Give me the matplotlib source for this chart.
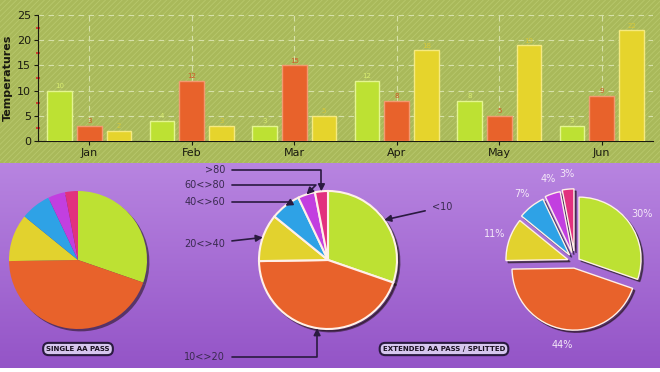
import numpy as np
import matplotlib
matplotlib.use('Agg')
import matplotlib.pyplot as plt
from matplotlib.patches import Rectangle

# data
months = ['Jan', 'Feb', 'Mar', 'Apr', 'May', 'Jun']
series_a = [10, 4, 3, 12, 8, 3]      # lime
series_b = [3, 12, 15, 8, 5, 9]      # orange
series_c = [2, 3, 5, 18, 19, 22]     # yellow
y_ticks = [0, 5, 10, 15, 20, 25]

pie_labels = ['<10', '10<>20', '20<>40', '40<>60', '60<>80', '>80']
pie_values = [30, 44, 11, 7, 4, 3]
pie_pct = ['30%', '44%', '11%', '7%', '4%', '3%']

bar_colors = ['#bde133', '#e8622b', '#e6d42c']
bar_edges = ['#e4f590', '#f29a70', '#f5ea80']
label_colors = ['#d8ec70', '#d05828', '#d8c838']
pie_colors = ['#bde133', '#e8622b', '#e2d22e', '#2ea2e6', '#c23fe0', '#e2317e']

W, H = 660, 372
plt.rcParams['hatch.linewidth'] = 0.6
plt.rcParams['font.family'] = ['DejaVu Sans']

fig = plt.figure(figsize=(W / 100, H / 100), dpi=100)

# background: green top, purple gradient bottom
bg = fig.add_axes([0, 0, 1, 1])
bg.set_xlim(0, W)
bg.set_ylim(H, 0)
bg.axis('off')
grad = np.linspace(0, 1, 256)[:, None]
purple = np.array([[0.72, 0.52, 0.88]]) * (1 - grad) + np.array([[0.58, 0.33, 0.78]]) * grad
bg.imshow(purple[:, None, :], extent=[0, W, 368, 163], aspect='auto', zorder=0)
bg.add_patch(Rectangle((0, 0), W, 163, facecolor='#a9b95a', edgecolor='#b8c86c',
                       hatch='//////', lw=0, zorder=1))
bg.add_patch(Rectangle((0, 368), W, 4, facecolor='white', lw=0, zorder=1))

# bar chart
ax = fig.add_axes([38 / W, (H - 141) / H, (653 - 38) / W, (141 - 15) / H])
ax.patch.set_alpha(0)
x = np.arange(len(months))
bw = 0.24
for i, vals in enumerate([series_a, series_b, series_c]):
    pos = x + (i - 1) * 0.29
    bars = ax.bar(pos, vals, bw, color=bar_colors[i], edgecolor=bar_edges[i], lw=1, zorder=3)
    for b, v in zip(bars, vals):
        ax.text(b.get_x() + b.get_width() / 2, v + 0.3, str(v), ha='center', va='bottom',
                fontsize=5, color=label_colors[i], zorder=4)
ax.set_xlim(-0.5, 5.5)
ax.set_ylim(0, 25)
ax.set_xticks(x)
ax.set_xticklabels(months, fontsize=8, color='#1a1a10')
ax.set_yticks(y_ticks)
ax.set_yticklabels([str(t) for t in y_ticks], fontsize=8, color='#1a1a10')
ax.set_yticks(np.arange(2.5, 25, 5), minor=True)
ax.tick_params(axis='y', which='minor', color='#d04030', length=3, width=1.5, direction='inout')
ax.tick_params(axis='both', which='major', length=3, color='#1a1a10', pad=2)
ax.grid(True, which='major', ls=(0, (5, 4)), color='#d6e0a8', lw=0.8, zorder=0)
for s in ['top', 'right']:
    ax.spines[s].set_visible(False)
ax.spines['left'].set_color('#1a1a10')
ax.spines['bottom'].set_color('#1a1a10')
ax.set_ylabel('Temperatures', fontsize=8, fontweight='bold', color='#1a1a10', labelpad=3)


def pie_axes(cx, cy, r):
    a = fig.add_axes([(cx - 1.5 * r) / W, (H - cy - 1.5 * r) / H, 3 * r / W, 3 * r / H])
    a.axis('off')
    return a


def fix_limits(a):
    a.set_xlim(-1.5, 1.5)
    a.set_ylim(-1.5, 1.5)
    a.set_aspect('equal')


shadow = {'ox': 0.025, 'oy': -0.025, 'shade': 0.92}

# pie 1
p1 = pie_axes(78, 260, 69)
p1.pie(pie_values, colors=pie_colors, startangle=90, counterclock=False,
       shadow=shadow, wedgeprops={'lw': 0})
fix_limits(p1)

# pie 2 with annotations
p2 = pie_axes(328, 260, 69)
wedges, _ = p2.pie(pie_values, colors=pie_colors, startangle=90, counterclock=False,
                   shadow=shadow, wedgeprops={'lw': 1.5, 'edgecolor': '#fff0e8'})
fix_limits(p2)
txt_pos = [(432, 207, 'left'), (225, 357, 'right'), (225, 244, 'right'),
           (225, 202, 'right'), (225, 185, 'right'), (225, 170, 'right')]
conn = ['arc3', 'angle,angleA=0,angleB=90,rad=0', 'arc3',
        'angle,angleA=0,angleB=30,rad=0', 'angle,angleA=0,angleB=45,rad=0',
        'angle,angleA=0,angleB=90,rad=0']
for w, lab, (tx, ty, ha), cs in zip(wedges, pie_labels, txt_pos, conn):
    ang = np.deg2rad((w.theta1 + w.theta2) / 2)
    tip = (np.cos(ang), np.sin(ang))
    p2.annotate(lab, xy=tip, xycoords='data', xytext=(tx, H - ty), textcoords='figure pixels',
                ha=ha, va='center', fontsize=7, color='#3a2a50',
                arrowprops=dict(arrowstyle='-|>', color='#2a1a40', lw=1.2,
                                connectionstyle=cs, shrinkA=3, shrinkB=0, mutation_scale=10))

# pie 3 exploded
p3 = pie_axes(575, 262, 62)
_, pct_texts = p3.pie(pie_values, colors=pie_colors, startangle=90, counterclock=False,
                      explode=[0.08, 0.1, 0.12, 0.14, 0.16, 0.18], labels=pie_pct,
                      labeldistance=1.25, textprops={'fontsize': 7, 'color': '#f4e8f8'},
                      shadow=shadow, wedgeprops={'lw': 1, 'edgecolor': '#fff0e8'})
for t in pct_texts:
    t.set_ha('center')
    t.set_va('center')
fix_limits(p3)

# caption buttons
btn = dict(boxstyle='round,pad=0.45,rounding_size=0.8', facecolor='#d6c6ee',
           edgecolor='#2a1a40', lw=1.5)
bg.text(78, 349, 'SINGLE AA PASS', ha='center', va='center', fontsize=5,
        fontweight='bold', color='#1a1020', bbox=btn, zorder=5)
bg.text(444, 349, 'EXTENDED AA PASS / SPLITTED', ha='center', va='center', fontsize=5,
        fontweight='bold', color='#1a1020', bbox=btn, zorder=5)

fig.savefig('out.png', dpi=100)
